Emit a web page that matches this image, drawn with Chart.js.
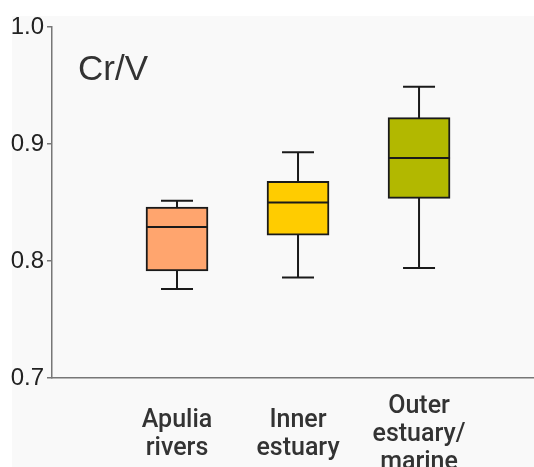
<!DOCTYPE html>
<html>
<head>
<meta charset="utf-8">
<script src="https://cdn.jsdelivr.net/npm/chart.js@4"></script>
<style>
  html, body { margin: 0; padding: 0; background: #fff; }
  #wrap { width: 534px; height: 467px; }
</style>
</head>
<body>
<div id="wrap"><canvas id="boxChart" width="534" height="467"></canvas></div>
<script>
// categories and box statistics (Cr/V)
var categories = [['Apulia', 'rivers'], ['Inner', 'estuary'], ['Outer', 'estuary/', 'marine']];
var positions = [1, 2, 3];
var mins = [0.776, 0.786, 0.794];
var q1s = [0.7915, 0.822, 0.8535];
var medians = [0.829, 0.850, 0.888];
var q3s = [0.846, 0.868, 0.9225];
var maxs = [0.8515, 0.893, 0.949];
var boxColors = ['#ffa56e', '#ffcc00', '#b2b800'];
var yTicks = [0.7, 0.8, 0.9, 1.0];

var lineColor = '#1a1a1a';

// background panel
var panelPlugin = {
  id: 'panel',
  beforeDraw: function (chart) {
    var c = chart.ctx;
    c.save();
    c.fillStyle = '#ffffff';
    c.fillRect(0, 0, chart.width, chart.height);
    c.fillStyle = '#f9f9f9';
    c.fillRect(12, 16, chart.width - 12, chart.height - 16);
    c.restore();
  }
};

// whiskers behind the boxes, medians on top, plus the inner label
var boxPlugin = {
  id: 'boxparts',
  beforeDatasetsDraw: function (chart) {
    var c = chart.ctx, x = chart.scales.x, y = chart.scales.y;
    c.save();
    c.strokeStyle = lineColor;
    c.lineWidth = 2;
    for (var i = 0; i < positions.length; i++) {
      var px = x.getPixelForValue(positions[i]);
      var capHalf = 16;
      c.beginPath();
      c.moveTo(px, y.getPixelForValue(mins[i]));
      c.lineTo(px, y.getPixelForValue(maxs[i]));
      c.moveTo(px - capHalf, y.getPixelForValue(mins[i]));
      c.lineTo(px + capHalf, y.getPixelForValue(mins[i]));
      c.moveTo(px - capHalf, y.getPixelForValue(maxs[i]));
      c.lineTo(px + capHalf, y.getPixelForValue(maxs[i]));
      c.stroke();
    }
    c.restore();
  },
  afterDatasetsDraw: function (chart) {
    var c = chart.ctx, y = chart.scales.y;
    var meta = chart.getDatasetMeta(0);
    c.save();
    c.strokeStyle = lineColor;
    c.lineWidth = 2;
    for (var i = 0; i < positions.length; i++) {
      var bar = meta.data[i];
      var half = bar.width / 2;
      var py = y.getPixelForValue(medians[i]);
      c.beginPath();
      c.moveTo(bar.x - half, py);
      c.lineTo(bar.x + half, py);
      c.stroke();
    }
    // panel label
    c.fillStyle = '#333';
    c.font = '35px "Liberation Sans", Arial, sans-serif';
    c.textBaseline = 'alphabetic';
    c.fillText('Cr/V', 78, 80);
    c.restore();
  }
};

var ctx = document.getElementById('boxChart').getContext('2d');

new Chart(ctx, {
  type: 'bar',
  data: {
    datasets: [{
      data: positions.map(function (p, i) { return { x: p, y: [q1s[i], q3s[i]] }; }),
      backgroundColor: boxColors,
      borderColor: lineColor,
      borderWidth: 2,
      borderSkipped: false,
      barThickness: 62
    }]
  },
  options: {
    responsive: false,
    animation: false,
    layout: { padding: { top: 27, left: 0, right: 0, bottom: 0 } },
    plugins: { legend: { display: false }, tooltip: { enabled: false } },
    scales: {
      x: {
        type: 'linear',
        offset: false,
        min: -0.033,
        max: 3.95,
        afterBuildTicks: function (s) { s.ticks = positions.map(function (p) { return { value: p }; }); },
        afterFit: function (s) { s.height = 89; s.paddingRight = 0; },
        grid: { offset: false, drawOnChartArea: false, drawTicks: false },
        border: { color: '#777', width: 1.5 },
        ticks: {
          maxRotation: 0,
          autoSkip: false,
          crossAlign: 'center',
          padding: 29,
          color: '#333',
          font: { family: 'Roboto, sans-serif', size: 25, weight: '500', lineHeight: 1.12 },
          callback: function (v) { return categories[positions.indexOf(v)]; }
        }
      },
      y: {
        min: 0.7,
        max: 1.0,
        afterBuildTicks: function (s) { s.ticks = yTicks.map(function (v) { return { value: v }; }); },
        afterFit: function (s) { s.width = 52; },
        grid: { drawOnChartArea: false, tickLength: 5, color: '#777', lineWidth: 1.5 },
        border: { color: '#777', width: 1.5 },
        ticks: {
          padding: 3,
          color: '#222',
          font: { family: '"Liberation Sans", Arial, sans-serif', size: 24 },
          callback: function (v) { return v.toFixed(1); }
        }
      }
    }
  },
  plugins: [panelPlugin, boxPlugin]
});
</script>
</body>
</html>
